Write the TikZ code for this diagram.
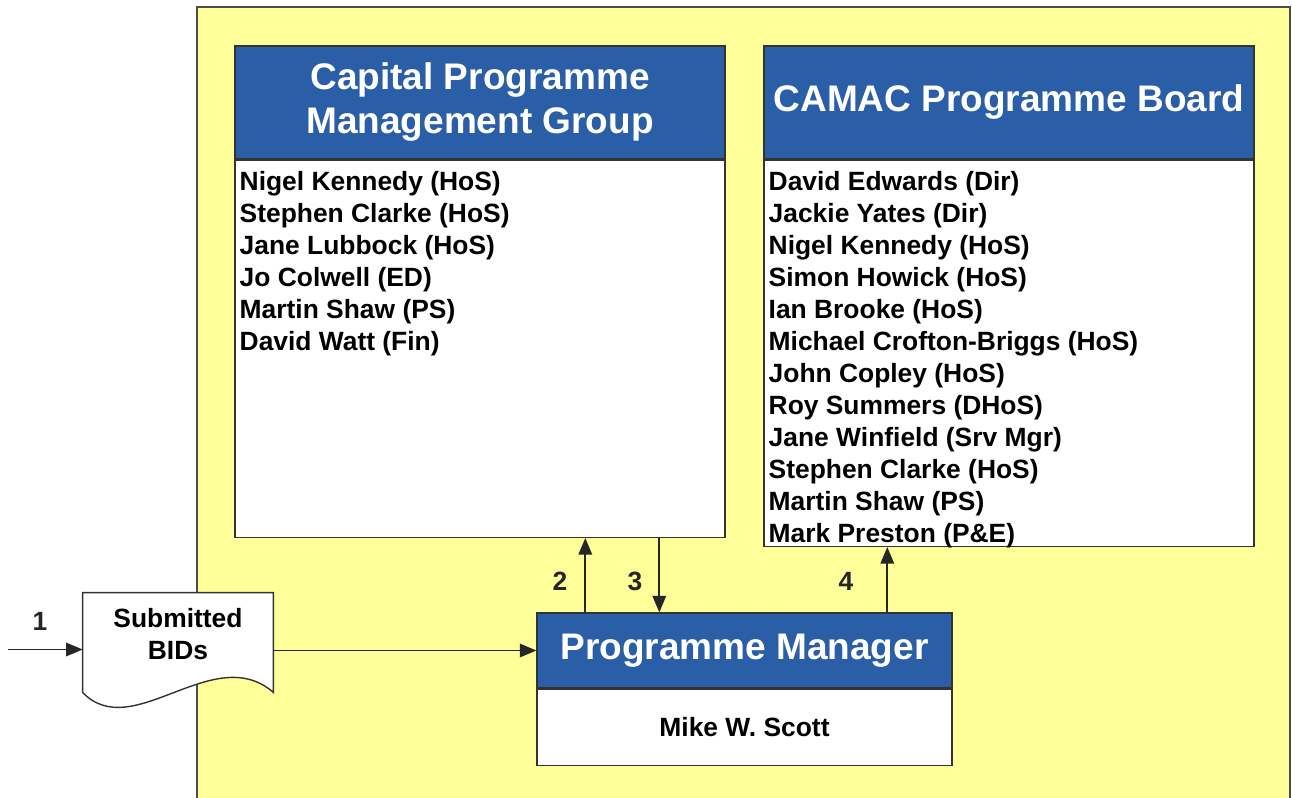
\documentclass[tikz,border=0pt]{standalone}
\usepackage{fontspec}
\setmainfont{Liberation Sans}
\usepackage{tikz}
\usetikzlibrary{positioning,arrows,backgrounds}
\definecolor{boardyellow}{RGB}{255,255,153}
\definecolor{headblue}{RGB}{42,94,166}

\begin{document}
\begin{tikzpicture}[x=0.5pt, y=-0.5pt,
  every node/.style={font=\bfseries\fontsize{13.2}{16}\selectfont},
  head/.style={draw=black!80, line width=0.7pt, fill=headblue, text=white, inner sep=2pt, align=center,
    font=\bfseries\fontsize{18.5}{22}\selectfont},
  body/.style={draw=black!80, line width=0.7pt, fill=white, inner sep=0pt},
  names/.style={anchor=north west, align=left, inner sep=2pt},
  flow/.style={-triangle 45, line width=0.9pt, black!85},
  num/.style={inner sep=1pt}]
  \useasboundingbox (0,0) rectangle (1292,798);
  \begin{scope}[on background layer]
    \fill[boardyellow] (197,7) rectangle (1290,820);
    \draw[black!70, line width=1pt] (197,820) -- (197,7) -- (1290,7) -- (1290,820);
  \end{scope}

  \node[head, minimum width=245pt, minimum height=56.5pt] (cpmg) at (480,102.5) {Capital Programme\\Management Group};
  \node[body, minimum width=245pt, minimum height=188.5pt, below=0pt of cpmg] (cpmgbody) {};
  \node[names] (cpmglist) at ([shift={(0.5pt,-3.5pt)}]cpmgbody.north west)
    {Nigel Kennedy (HoS)\\Stephen Clarke (HoS)\\Jane Lubbock (HoS)\\Jo Colwell (ED)\\Martin Shaw (PS)\\David Watt (Fin)};

  \node[head, minimum width=245pt, minimum height=56.5pt] (camac) at (1009,102.5) {CAMAC Programme Board};
  \node[body, minimum width=245pt, minimum height=193pt, below=0pt of camac] (camacbody) {};
  \node[names] (camaclist) at ([shift={(0.5pt,-3.5pt)}]camacbody.north west)
    {David Edwards (Dir)\\Jackie Yates (Dir)\\Nigel Kennedy (HoS)\\Simon Howick (HoS)\\Ian Brooke (HoS)\\
     Michael Crofton-Briggs (HoS)\\John Copley (HoS)\\Roy Summers (DHoS)\\Jane Winfield (Srv Mgr)\\
     Stephen Clarke (HoS)\\Martin Shaw (PS)\\Mark Preston (P\&E)};

  \node[head, minimum width=207.5pt, minimum height=37.5pt] (pm) at (744.5,650.5) {Programme Manager};
  \node[body, minimum width=207.5pt, minimum height=38pt, below=0pt of pm] (pmbody) {Mike W. Scott};

  \node[minimum width=95pt, minimum height=41.5pt, inner sep=0pt, align=center] (bids) at (178,634.5) {Submitted\\BIDs};
  \begin{scope}[on background layer]
    \filldraw[fill=white, draw=black!80, line width=0.7pt] (bids.north west) -- (bids.north east) -- ([yshift=-8pt]bids.south east)
      .. controls ([shift={(-30pt,18pt)}]bids.south east) and ([shift={(25pt,-34pt)}]bids.south west) .. ([yshift=-8pt]bids.south west) -- cycle;
  \end{scope}

  \coordinate (in1) at (8,649.5);
  \coordinate (p2) at ([xshift=24.5pt]pm.north west);
  \coordinate (p3) at ([xshift=61.5pt]pm.north west);
  \coordinate (p4) at ([xshift=175.5pt]pm.north west);

  \draw[flow] (in1) -- (in1 -| bids.west) node[num, pos=0.43, above=8pt] {1};
  \draw[flow] (bids.east |- pm.west) -- (pm.west);
  \draw[flow] (p2) -- (p2 |- cpmgbody.south) node[num, pos=0.42, left=7.5pt] {2};
  \draw[flow] (p3 |- cpmgbody.south) -- (p3) node[num, pos=0.58, left=7pt] {3};
  \draw[flow] (p4) -- (p4 |- camacbody.south) node[num, pos=0.47, left=15.5pt] {4};
\end{tikzpicture}
\end{document}
